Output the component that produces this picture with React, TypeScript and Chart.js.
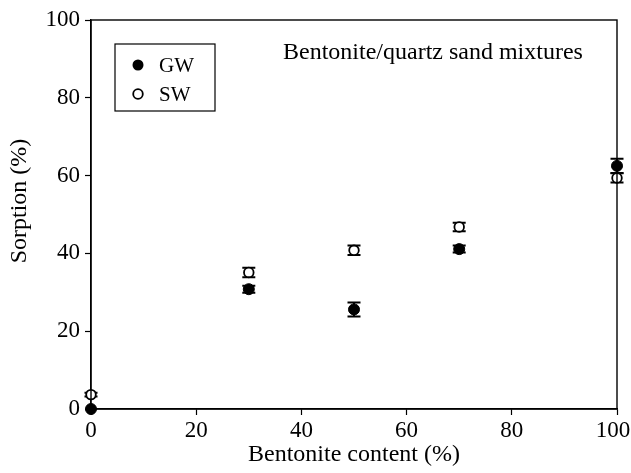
import React, { useEffect, useRef } from "react";
import { Chart, registerables } from "chart.js";

Chart.register(...registerables);

// Bentonite content of the mixture (%)
const bentonite = [0, 30, 50, 70, 100];
// Sorption measured in granitic groundwater (GW) and saline water (SW), with standard deviations
const gwSorption = [0, 30.8, 25.6, 41.1, 62.5];
const gwError = [0, 0.9, 1.8, 0.9, 1.8];
const swSorption = [3.7, 35.1, 40.8, 46.8, 59.4];
const swError = [0.5, 1.2, 1.2, 1.1, 1.2];

const seriesNames = ["GW", "SW"];
const xTicks = [0, 20, 40, 60, 80, 100];
const yTicks = [0, 20, 40, 60, 80, 100];

const FONT = "'Liberation Serif', 'Times New Roman', serif";

const errorBars = {
  id: "errorBars",
  beforeDatasetsDraw(chart: any) {
    const { ctx, scales } = chart;
    ctx.save();
    ctx.strokeStyle = "#000";
    ctx.lineWidth = 2;
    chart.data.datasets.forEach((ds: any) => {
      const errs: number[] = ds.errors || [];
      ds.data.forEach((p: any, i: number) => {
        const e = errs[i] || 0;
        if (!e) return;
        const x = scales.x.getPixelForValue(p.x);
        const y1 = scales.y.getPixelForValue(p.y + e);
        const y2 = scales.y.getPixelForValue(p.y - e);
        ctx.beginPath();
        ctx.moveTo(x, y1);
        ctx.lineTo(x, y2);
        ctx.moveTo(x - 6.5, y1);
        ctx.lineTo(x + 6.5, y1);
        ctx.moveTo(x - 6.5, y2);
        ctx.lineTo(x + 6.5, y2);
        ctx.stroke();
      });
    });
    ctx.restore();
  },
};

// keep the last x tick label inside the canvas
const fitLastLabel = {
  id: "fitLastLabel",
  beforeDraw(chart: any) {
    const items = chart.scales.x.getLabelItems();
    const last = items[items.length - 1];
    if (last && last.options && last.options.translation) {
      last.options.translation[0] -= 4;
    }
  },
};

const decorations = {
  id: "decorations",
  afterDraw(chart: any) {
    const { ctx, chartArea } = chart;
    const { left, top, right, bottom } = chartArea;
    ctx.save();
    // frame
    ctx.strokeStyle = "#000";
    ctx.lineWidth = 1.4;
    ctx.strokeRect(left, top, right - left, bottom - top);

    // legend box
    const lx = left + 24;
    const ly = top + 24;
    ctx.lineWidth = 1.2;
    ctx.strokeRect(lx, ly, 100, 67);
    ctx.fillStyle = "#000";
    ctx.beginPath();
    ctx.arc(lx + 23, ly + 21, 5.5, 0, Math.PI * 2);
    ctx.fill();
    ctx.beginPath();
    ctx.lineWidth = 1.8;
    ctx.fillStyle = "#fff";
    ctx.arc(lx + 23, ly + 50, 4.8, 0, Math.PI * 2);
    ctx.fill();
    ctx.stroke();
    ctx.fillStyle = "#000";
    ctx.font = `21px ${FONT}`;
    ctx.textAlign = "left";
    ctx.textBaseline = "middle";
    ctx.fillText(seriesNames[0], lx + 44, ly + 22);
    ctx.fillText(seriesNames[1], lx + 44, ly + 51);

    // annotation
    ctx.font = `24px ${FONT}`;
    ctx.textBaseline = "alphabetic";
    ctx.fillText("Bentonite/quartz sand mixtures", left + 192, top + 39);

    // y axis title
    ctx.translate(20, 201);
    ctx.rotate(-Math.PI / 2);
    ctx.textAlign = "center";
    ctx.textBaseline = "middle";
    ctx.fillText("Sorption (%)", 0, 0);
    ctx.restore();
  },
};

export default function App() {
  const ref = useRef<HTMLCanvasElement>(null);

  useEffect(() => {
    if (!ref.current) return;
    const chart = new Chart(ref.current, {
      type: "scatter",
      data: {
        datasets: [
          {
            label: seriesNames[0],
            data: bentonite.map((x, i) => ({ x, y: gwSorption[i] })),
            errors: gwError,
            backgroundColor: "#000",
            borderColor: "#000",
            borderWidth: 1,
            pointRadius: 5.5,
            clip: false,
          } as any,
          {
            label: seriesNames[1],
            data: bentonite.map((x, i) => ({ x, y: swSorption[i] })),
            errors: swError,
            backgroundColor: "#fff",
            borderColor: "#000",
            borderWidth: 1.8,
            pointRadius: 4.8,
            clip: false,
          } as any,
        ],
      },
      options: {
        responsive: false,
        animation: false,
        layout: { padding: { top: 20, right: 14, left: 0, bottom: 0 } },
        plugins: {
          legend: { display: false },
          tooltip: { enabled: false },
        },
        scales: {
          x: {
            type: "linear",
            min: 0,
            max: 100,
            afterBuildTicks: (s: any) => {
              s.ticks = xTicks.map((v) => ({ value: v }));
            },
            afterFit: (s: any) => {
              s.height = 64;
              s.paddingLeft = 0;
              s.paddingRight = 0;
            },
            grid: {
              display: true,
              drawOnChartArea: false,
              drawTicks: true,
              tickLength: 6,
              tickWidth: 1.2,
              tickColor: "#000",
            },
            border: { display: true, color: "#000", width: 1.4 },
            ticks: {
              color: "#000",
              font: { family: FONT, size: 23 },
              padding: 2,
              maxRotation: 0,
            },
            title: {
              display: true,
              text: "Bentonite content (%)",
              color: "#000",
              font: { family: FONT, size: 24 },
              padding: { top: 0, bottom: 4 },
            },
          },
          y: {
            type: "linear",
            min: 0,
            max: 100,
            afterBuildTicks: (s: any) => {
              s.ticks = yTicks.map((v) => ({ value: v }));
            },
            afterFit: (s: any) => {
              s.width = 91;
              s.paddingTop = 0;
              s.paddingBottom = 0;
            },
            grid: {
              display: true,
              drawOnChartArea: false,
              drawTicks: true,
              tickLength: 6,
              tickWidth: 1.2,
              tickColor: "#000",
            },
            border: { display: true, color: "#000", width: 1.4 },
            ticks: {
              color: "#000",
              font: { family: FONT, size: 23 },
              padding: 5,
            },
          },
        },
      } as any,
      plugins: [errorBars, fitLastLabel, decorations],
    });
    return () => chart.destroy();
  }, []);

  return (
    <div style={{ position: "fixed", left: 0, top: 0, width: 631, height: 473, background: "#fff" }}>
      <canvas ref={ref} width={631} height={473} style={{ display: "block" }} />
    </div>
  );
}
